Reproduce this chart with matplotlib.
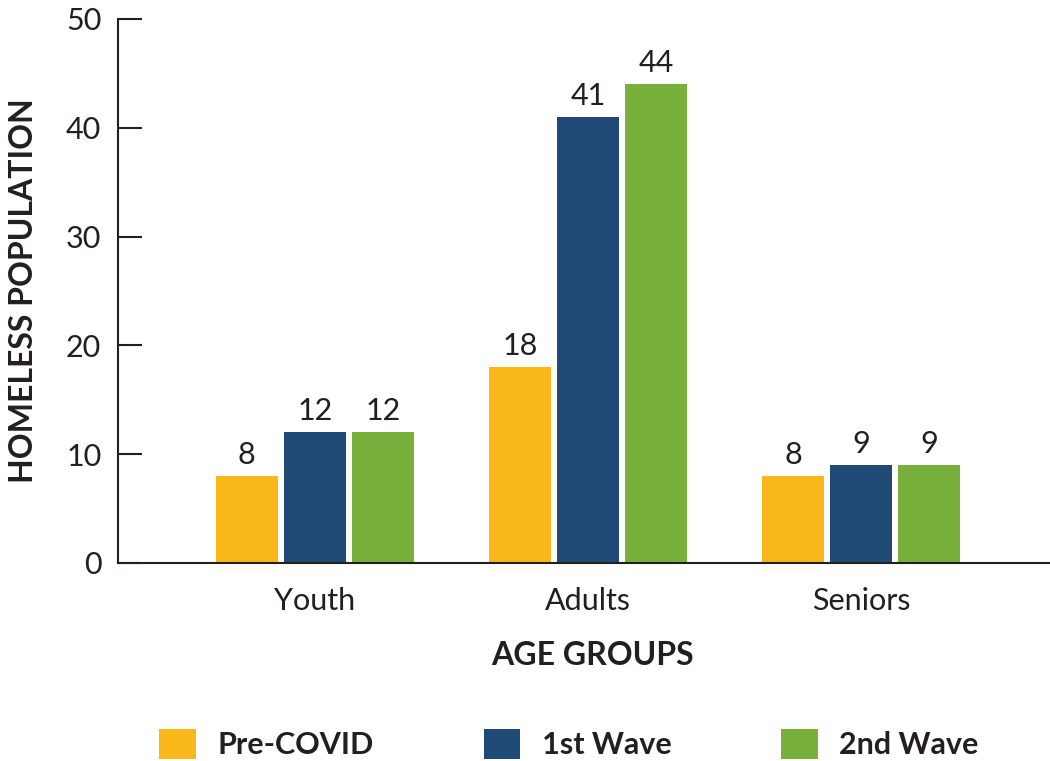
import numpy as np
import matplotlib.pyplot as plt
from matplotlib.patches import Patch

# data
groups = ['Youth', 'Adults', 'Seniors']
series = ['Pre-COVID', '1st Wave', '2nd Wave']
pre_covid = [8, 18, 8]
first_wave = [12, 41, 9]
second_wave = [12, 44, 9]
colors = ['#FAB719', '#1F4A75', '#77B13B']
text_color = '#231F20'

plt.rcParams['font.family'] = ['Lato', 'DejaVu Sans']

fig = plt.figure(figsize=(10.5, 7.61), dpi=100)
ax = fig.add_axes([118 / 1050, 1 - 563 / 761, 1 - 118 / 1050, (563 - 19) / 761])

x = np.arange(len(groups))
width = 0.227
step = 0.249
for i, (vals, name) in enumerate(zip([pre_covid, first_wave, second_wave], series)):
    bars = ax.bar(x + (i - 1) * step, vals, width, color=colors[i], label=name, zorder=2)
    ax.bar_label(bars, padding=5, fontsize=22, color=text_color)

ax.set_xlim(-0.72, 2.69)
ax.set_ylim(0, 50)
ax.set_yticks([0, 10, 20, 30, 40, 50])
ax.set_xticks(x)
ax.set_xticklabels(groups)

for s in ['top', 'right']:
    ax.spines[s].set_visible(False)
for s in ['left', 'bottom']:
    ax.spines[s].set_color(text_color)
    ax.spines[s].set_linewidth(1.5)
ax.spines['left'].set_bounds(0, 50)

ax.tick_params(axis='y', direction='in', length=17, width=1.5, color=text_color,
               labelsize=22, labelcolor=text_color, pad=12)
ax.tick_params(axis='x', length=0, labelsize=22, labelcolor=text_color, pad=17)

ax.set_ylabel('HOMELESS POPULATION', fontsize=23, fontweight='bold', color=text_color)
ax.yaxis.set_label_coords(-0.086, 0.5)
ax.set_xlabel('AGE GROUPS', fontsize=23, fontweight='bold', color=text_color)
ax.xaxis.set_label_coords(0.509, -0.143)

handles = [Patch(facecolor=c, edgecolor='none') for c in colors]
fig.legend(handles, series, loc='center', bbox_to_anchor=(0.542, 1 - 744 / 761), ncol=3,
           frameon=False, prop={'size': 22, 'weight': 'bold'}, labelcolor=text_color,
           handlelength=1.2, handleheight=1.15, handletextpad=0.7, columnspacing=3.6)

fig.savefig('out.png', dpi=100)
